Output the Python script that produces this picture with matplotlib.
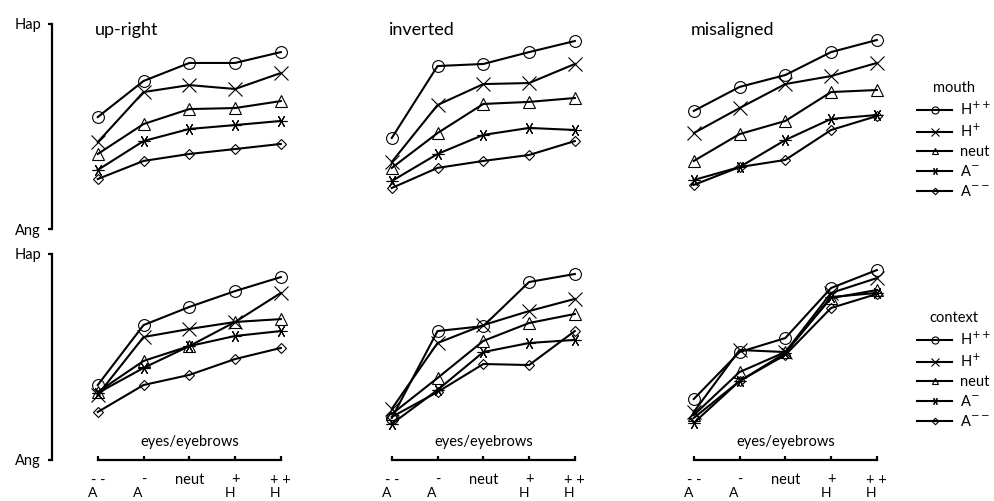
import matplotlib
matplotlib.use("Agg")
import matplotlib.pyplot as plt

plt.rcParams['font.family'] = ['Lato', 'DejaVu Sans']
plt.rcParams['mathtext.fontset'] = 'dejavusans'

# eyes/eyebrows levels on the x axis
levels = ['- -', '-', 'neut', '+', '+ +']
level_letters = ['A', 'A', '', 'H', 'H']
titles = ['up-right', 'inverted', 'misaligned']
series_labels = [r'H$^{++}$', r'H$^{+}$', 'neut', r'A$^{-}$', r'A$^{--}$']

# ratings: 0 = Ang, 100 = Hap
# rows: H++, H+, neut, A-, A--
mouth_upright = [[54.6, 72.2, 81.0, 81.0, 86.3],
                 [42.4, 66.8, 70.2, 68.3, 76.1],
                 [36.6, 51.2, 58.5, 59.0, 62.4],
                 [28.8, 42.9, 48.8, 50.7, 52.7],
                 [24.4, 33.2, 36.6, 39.0, 41.5]]
mouth_inverted = [[44.4, 79.5, 80.5, 86.3, 91.7],
                  [32.7, 60.5, 70.7, 71.2, 80.5],
                  [29.8, 46.8, 61.0, 62.0, 63.9],
                  [23.4, 36.6, 45.9, 49.3, 48.3],
                  [20.0, 29.8, 33.2, 36.1, 42.9]]
mouth_misaligned = [[57.6, 69.3, 75.1, 86.3, 92.2],
                    [46.8, 59.0, 70.7, 74.6, 81.0],
                    [33.2, 46.3, 52.7, 66.8, 67.8],
                    [23.9, 30.2, 43.4, 53.7, 55.6],
                    [21.5, 30.2, 33.7, 48.3, 55.1]]
context_upright = [[36.4, 65.5, 74.3, 82.0, 88.8],
                   [31.6, 59.7, 63.6, 67.0, 81.1],
                   [33.0, 48.1, 55.3, 67.0, 68.4],
                   [32.5, 44.7, 55.3, 60.2, 62.6],
                   [23.3, 36.4, 41.3, 49.0, 54.4]]
context_inverted = [[20.4, 62.6, 65.0, 86.4, 90.3],
                    [24.8, 56.8, 65.5, 72.3, 78.2],
                    [22.3, 39.8, 57.8, 66.5, 70.9],
                    [17.5, 34.0, 52.4, 56.8, 58.3],
                    [20.9, 33.0, 46.6, 46.1, 62.6]]
context_misaligned = [[29.6, 52.4, 59.2, 83.5, 92.2],
                      [23.3, 53.4, 52.4, 81.1, 88.3],
                      [21.8, 42.7, 52.4, 78.6, 82.5],
                      [18.0, 38.3, 51.9, 79.1, 81.1],
                      [20.4, 38.3, 51.0, 73.8, 80.6]]

rows = [[mouth_upright, mouth_inverted, mouth_misaligned],
        [context_upright, context_inverted, context_misaligned]]
legend_titles = ['mouth', 'context']

markers = ['o', 'x', '^', (6, 2, 90), 'D']
msizes = [8.5, 10, 8, 8.5, 5.5]

W, H = 995, 501
fig = plt.figure(figsize=(W / 100, H / 100), dpi=100)

row_px = [(24, 229), (254, 460)]
col_px = [52, 346, 648]
ax_w = 238

x = list(range(len(levels)))
for r, (top, bot) in enumerate(row_px):
    for c, left in enumerate(col_px):
        ax = fig.add_axes([left / W, 1 - bot / H, ax_w / W, (bot - top) / H])
        ax.set_xlim(-1, 4.2)
        ax.set_ylim(0, 100)
        handles = []
        for s, ys in enumerate(rows[r][c]):
            ln, = ax.plot(x, ys, color='black', lw=1.5, marker=markers[s],
                          ms=msizes[s], mfc='none', mec='black', mew=0.8,
                          clip_on=False)
            handles.append(ln)
        for sp in ['top', 'right']:
            ax.spines[sp].set_visible(False)
        if c == 0:
            ax.spines['left'].set_bounds(0, 100)
            ax.spines['left'].set_linewidth(1.6)
            ax.set_yticks([0, 100])
            ax.set_yticklabels(['Ang', 'Hap'], fontsize=10.5)
            ax.tick_params(axis='y', length=3, width=1.6, pad=5)
        else:
            ax.spines['left'].set_visible(False)
            ax.set_yticks([])
        if r == 1:
            ax.spines['bottom'].set_bounds(0, 4)
            ax.spines['bottom'].set_linewidth(1.6)
            ax.set_xticks(x)
            ax.set_xticklabels(levels, fontsize=10.5)
            ax.tick_params(axis='x', direction='in', length=3, width=1.6, pad=9)
            for i, let in enumerate(level_letters):
                ax.annotate(let, xy=(i, 0), xycoords=ax.get_xaxis_transform(),
                            xytext=(-4, -23.5), textcoords='offset points',
                            ha='center', va='center', fontsize=10)
            ax.text(2, 0.085, 'eyes/eyebrows', transform=ax.get_xaxis_transform(),
                    ha='center', va='center', fontsize=10.5)
        else:
            ax.spines['bottom'].set_visible(False)
            ax.set_xticks([])
            ax.text(-0.07, 0.97, titles[c], transform=ax.get_xaxis_transform(),
                    ha='left', va='center', fontsize=13)
        if c == 2:
            leg_top = [74, 304][r]
            ax.legend(handles, series_labels, title=legend_titles[r],
                      loc='upper left', bbox_to_anchor=(910 / W, 1 - leg_top / H),
                      bbox_transform=fig.transFigure, frameon=False,
                      fontsize=10.5, title_fontsize=10.5, handlelength=2.4,
                      handletextpad=0.5, labelspacing=0.35, borderpad=0,
                      markerscale=0.6)

fig.savefig('out.png', dpi=100)
